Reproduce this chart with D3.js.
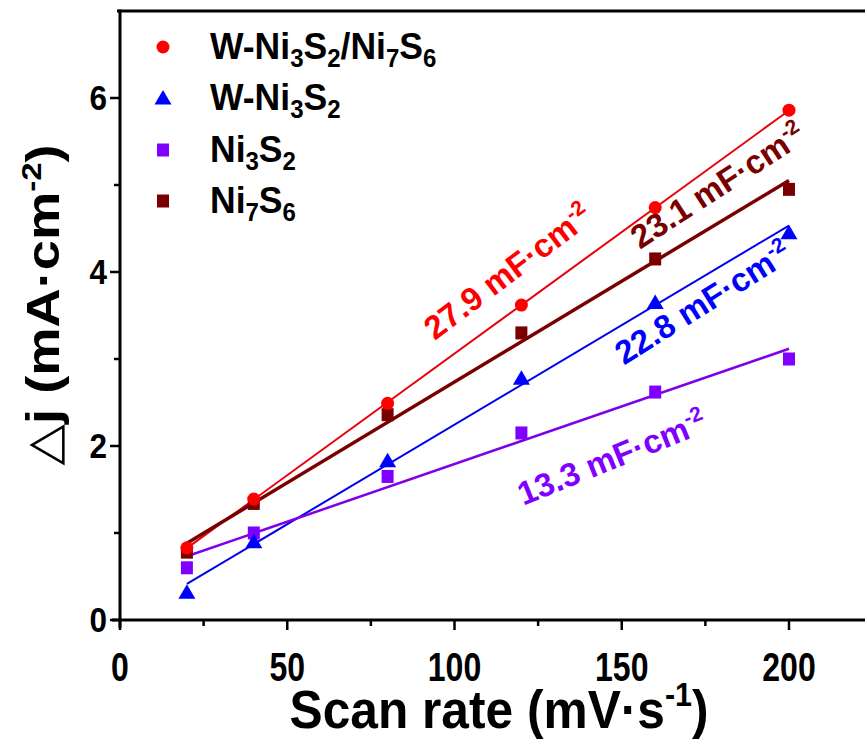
<!DOCTYPE html>
<html><head><meta charset="utf-8">
<script src="https://cdn.jsdelivr.net/npm/d3@7"></script>
<style>
html,body{margin:0;padding:0;background:#fff;}
svg{display:block;font-family:"Liberation Sans",Arial,sans-serif;font-weight:bold;}
</style></head>
<body>
<svg id="c" width="865" height="742"></svg>
<script>
// ---- data ----
const scanRates = [20, 40, 80, 120, 160, 200];
const wNi3S2Ni7S6 = [0.83, 1.39, 2.49, 3.62, 4.74, 5.86];
const wNi3S2 = [0.32, 0.90, 1.83, 2.78, 3.65, 4.45];
const ni3S2 = [0.60, 1.00, 1.65, 2.15, 2.62, 3.00];
const ni7S6 = [0.78, 1.34, 2.36, 3.30, 4.15, 4.95];
const xTicks = [0, 50, 100, 150, 200];
const yTicks = [0, 2, 4, 6];
const capLabels = ["27.9", "23.1", "22.8", "13.3"];

const series = [
  {name:[["W-Ni",""],["3","sub"],["S",""],["2","sub"],["/Ni",""],["7","sub"],["S",""],["6","sub"]], values:wNi3S2Ni7S6, color:"#ff0000", line:"#e8000b", lw:2, shape:"circle", cap:capLabels[0]},
  {name:[["W-Ni",""],["3","sub"],["S",""],["2","sub"]], values:wNi3S2, color:"#0000ff", line:"#0000ee", lw:2, shape:"triangle", cap:capLabels[2]},
  {name:[["Ni",""],["3","sub"],["S",""],["2","sub"]], values:ni3S2, color:"#8000ff", line:"#7f00e8", lw:2.5, shape:"square", cap:capLabels[3]},
  {name:[["Ni",""],["7","sub"],["S",""],["6","sub"]], values:ni7S6, color:"#7a0000", line:"#7a0000", lw:3.5, shape:"square", cap:capLabels[1]}
];

const svg = d3.select("#c");
const x = d3.scaleLinear().domain([0, 225]).range([120, 120 + 225 * 3.345]);
const y = d3.scaleLinear().domain([0, 7]).range([620, 11]);

// frame
svg.append("line").attr("x1", 117).attr("x2", 865).attr("y1", y(7)).attr("y2", y(7)).attr("stroke", "#000").attr("stroke-width", 3);

// axes
const xAxis = svg.append("g").attr("transform", "translate(0,620)");
xAxis.append("line").attr("x1", 112).attr("x2", 865).attr("y1", 0).attr("y2", 0).attr("stroke", "#000").attr("stroke-width", 3);
d3.range(0, 226, 25).forEach(v => {
  const major = v % 50 === 0;
  xAxis.append("line").attr("x1", x(v)).attr("x2", x(v)).attr("y1", 0).attr("y2", major ? 10 : 6)
    .attr("stroke", "#000").attr("stroke-width", 2.5);
});
xAxis.selectAll("g.t").data(xTicks).join("g").attr("class","t")
  .attr("transform", d => `translate(${x(d)},61) scale(0.8,1)`)
  .append("text").attr("text-anchor", "middle").attr("font-size", 40).text(d => d);

const yAxis = svg.append("g").attr("transform", "translate(120,0)");
yAxis.append("line").attr("x1", 0).attr("x2", 0).attr("y1", y(7) - 1.5).attr("y2", 628).attr("stroke", "#000").attr("stroke-width", 3);
d3.range(0, 7, 1).forEach(v => {
  const major = v % 2 === 0;
  yAxis.append("line").attr("x1", 0).attr("x2", major ? -10 : -6).attr("y1", y(v)).attr("y2", y(v))
    .attr("stroke", "#000").attr("stroke-width", 2.5);
});
yAxis.selectAll("g.t").data(yTicks).join("g").attr("class","t")
  .attr("transform", d => `translate(-13,${y(d) + 12}) scale(0.9,1)`)
  .append("text").attr("text-anchor", "end").attr("font-size", 35).text(d => d);

// axis titles
const xt = svg.append("g").attr("transform", "translate(499,728) scale(0.92,1)")
  .append("text").attr("text-anchor", "middle").attr("font-size", 54);
xt.append("tspan").text("Scan rate (mV·s");
xt.append("tspan").attr("dy", -22).attr("font-size", 33).text("-1");
xt.append("tspan").attr("dy", 22).text(")");

const yt = svg.append("g").attr("transform", "translate(59,305) rotate(-90) scale(1.18,1)")
  .append("text").attr("text-anchor", "middle").attr("font-size", 46);
yt.append("tspan").attr("font-weight", "normal").attr("font-family", "DejaVu Sans").text("△");
yt.append("tspan").text("j (mA·cm");
yt.append("tspan").attr("dy", -18).attr("font-size", 28).text("-2");
yt.append("tspan").attr("dy", 18).text(")");

// symbols
function drawSymbol(g, shape, cx, cy, color) {
  if (shape === "circle") g.append("circle").attr("cx", cx).attr("cy", cy).attr("r", 6.5).attr("fill", color);
  else if (shape === "triangle") g.append("path").attr("d", `M${cx},${cy-8}L${cx+8.5},${cy+6.5}L${cx-8.5},${cy+6.5}Z`).attr("fill", color);
  else g.append("rect").attr("x", cx-6).attr("y", cy-6.5).attr("width", 12).attr("height", 13).attr("fill", color);
}

// fits and points
const plot = svg.append("g");
const drawOrder = [0, 3, 1, 2];
drawOrder.forEach(i => {
  const s = series[i];
  const n = scanRates.length;
  const mx = d3.mean(scanRates), my = d3.mean(s.values);
  let sxy = 0, sxx = 0;
  scanRates.forEach((xv, k) => { sxy += (xv - mx) * (s.values[k] - my); sxx += (xv - mx) ** 2; });
  const b = sxy / sxx, a = my - b * mx;
  const x0 = scanRates[0], x1 = scanRates[n - 1];
  plot.append("line").attr("x1", x(x0)).attr("y1", y(a + b * x0)).attr("x2", x(x1)).attr("y2", y(a + b * x1))
    .attr("stroke", s.line).attr("stroke-width", s.lw);
});
[2, 1, 3, 0].forEach(i => {
  const s = series[i];
  const g = plot.append("g");
  scanRates.forEach((xv, k) => drawSymbol(g, s.shape, x(xv), y(s.values[k]), s.color));
});

// capacitance labels
const caps = [
  {i:0, cx:508, cy:272, rot:-37},
  {i:3, cx:718, cy:186, rot:-33},
  {i:1, cx:703, cy:303, rot:-32},
  {i:2, cx:612, cy:458, rot:-22}
];
caps.forEach(c => {
  const s = series[c.i];
  const t = svg.append("text").attr("transform", `translate(${c.cx},${c.cy}) rotate(${c.rot})`)
    .attr("text-anchor", "middle").attr("dy", 11).attr("font-size", 33).attr("fill", s.color);
  t.append("tspan").text(s.cap + " mF·cm");
  t.append("tspan").attr("dy", -13).attr("font-size", 21).text("-2");
});

// legend
const legY = [47, 98, 150, 201];
series.forEach((s, i) => {
  const g = svg.append("g");
  drawSymbol(g, s.shape, 163, legY[i], s.color);
  const t = g.append("g").attr("transform", `translate(210,${legY[i] + 12}) scale(0.96,1)`)
    .append("text").attr("font-size", 37);
  let shifted = false;
  s.name.forEach(([txt, kind]) => {
    const ts = t.append("tspan").text(txt);
    if (kind === "sub") { ts.attr("font-size", 25).attr("dy", shifted ? 0 : 8); shifted = true; }
    else { ts.attr("dy", shifted ? -8 : 0); shifted = false; }
  });
});
</script>
</body></html>
